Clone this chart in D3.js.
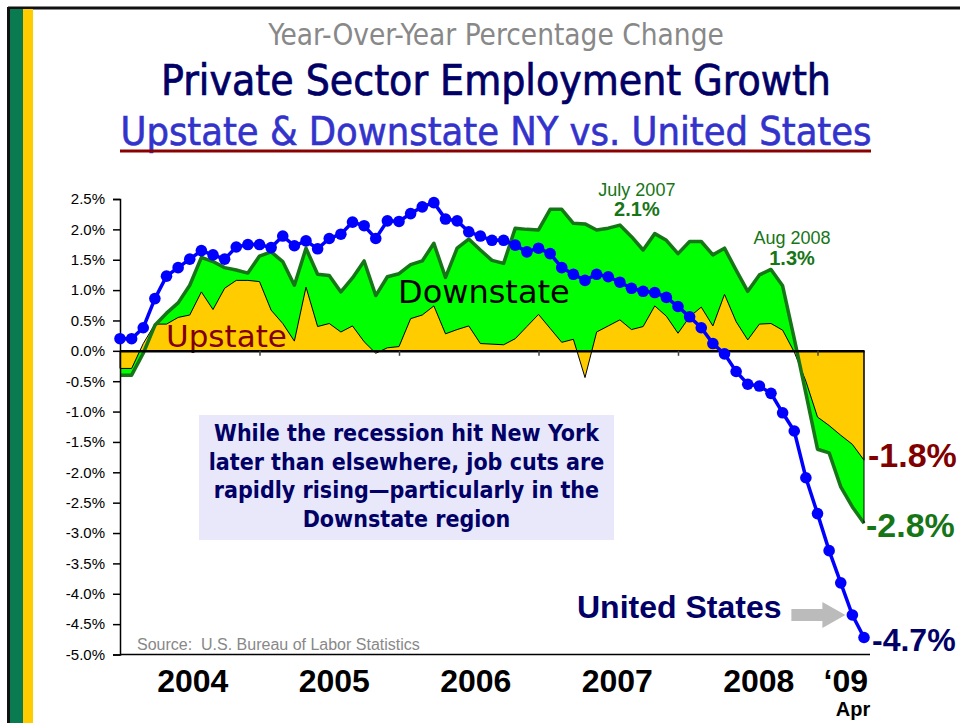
<!DOCTYPE html>
<html>
<head>
<meta charset="utf-8">
<script src="https://cdn.jsdelivr.net/npm/d3@7"></script>
<style>
  body { margin: 0; background: #fff; }
  svg { display: block; }
</style>
</head>
<body>
<div id="chart"></div>
<script>
var svgWidth = 960;
var svgHeight = 723;

// monthly points, Dec 2003 .. Apr 2009
var months = d3.timeMonth.range(new Date(2003, 11, 1), new Date(2009, 4, 1))
  .map(d3.timeFormat("%b %Y"));

// year-over-year % change, private sector employment
var usValues = [0.20, 0.20, 0.38, 0.86, 1.23, 1.37, 1.51, 1.65, 1.58, 1.51, 1.71, 1.75, 1.75,
  1.70, 1.89, 1.73, 1.81, 1.68, 1.85, 1.92, 2.12, 2.06, 1.85, 2.14, 2.13,
  2.26, 2.37, 2.44, 2.17, 2.14, 1.96, 1.89, 1.82, 1.82, 1.74, 1.63, 1.69,
  1.60, 1.37, 1.26, 1.16, 1.26, 1.22, 1.13, 1.03, 0.98, 0.96, 0.88, 0.73,
  0.56, 0.38, 0.12, -0.05, -0.34, -0.55, -0.58, -0.70, -1.02, -1.32, -2.09, -2.68,
  -3.29, -3.82, -4.35, -4.72];

var downstateValues = [-0.40, -0.40, -0.04, 0.42, 0.62, 0.79, 1.08, 1.54, 1.47, 1.37, 1.33, 1.28, 1.56,
  1.63, 1.47, 1.08, 1.69, 1.26, 1.24, 0.97, 1.20, 1.48, 0.91, 1.22, 1.27,
  1.42, 1.48, 1.77, 1.21, 1.69, 1.84, 1.66, 1.49, 1.44, 2.02, 2.00, 1.99,
  2.33, 2.33, 2.10, 2.09, 1.99, 2.02, 2.07, 1.88, 1.66, 1.93, 1.82, 1.60,
  1.80, 1.80, 1.58, 1.69, 1.33, 0.98, 1.25, 1.34, 1.07, 0.20, -0.70, -1.62,
  -1.68, -2.24, -2.57, -2.84];

var upstateValues = [-0.29, -0.29, 0.12, 0.44, 0.44, 0.55, 0.59, 0.97, 0.68, 1.03, 1.16, 1.16, 1.14,
  0.67, 0.45, 0.16, 1.05, 0.40, 0.45, 0.31, 0.41, 0.15, -0.04, 0.05, 0.07,
  0.53, 0.59, 0.74, 0.28, 0.35, 0.41, 0.12, 0.11, 0.10, 0.20, 0.40, 0.60,
  0.37, 0.14, 0.19, -0.44, 0.31, 0.41, 0.51, 0.35, 0.40, 0.74, 0.57, 0.29,
  0.56, 0.72, 0.41, 0.93, 0.48, 0.18, 0.44, 0.45, 0.34, -0.02, -0.50, -1.09,
  -1.23, -1.39, -1.54, -1.80];

var yTicks = [2.5, 2.0, 1.5, 1.0, 0.5, 0.0, -0.5, -1.0, -1.5, -2.0, -2.5, -3.0, -3.5, -4.0, -4.5, -5.0];
var yearTicks = ["Dec 2004", "Dec 2005", "Dec 2006", "Dec 2007", "Dec 2008"];
var yearLabels = ["2004", "2005", "2006", "2007", "2008", "\u201809"];

var noteLines = ["While the recession hit New York",
  "later than elsewhere, job cuts are",
  "rapidly rising\u2014particularly in the",
  "Downstate region"];

var arial = "'Liberation Sans', Arial, sans-serif";
var tahoma = "'DejaVu Sans Condensed', 'DejaVu Sans', sans-serif";
var verdana = "'DejaVu Sans', Verdana, sans-serif";

var navy = "#000066";
var darkGreen = "#167516";
var darkRed = "#800000";

// percent label with a plain hyphen for the minus sign
var pct = function (v) { return d3.format(".1f")(v).replace("\u2212", "-") + "%"; };

var svg = d3.select("#chart")
  .append("svg")
  .attr("width", svgWidth)
  .attr("height", svgHeight);

// frame + side stripes
svg.append("rect").attr("x", 0).attr("y", 0).attr("width", svgWidth).attr("height", svgHeight).attr("fill", "#fff");
svg.append("line").attr("x1", 8).attr("x2", svgWidth).attr("y1", 8).attr("y2", 8)
  .attr("stroke", "#111").attr("stroke-width", 3);
svg.append("rect").attr("x", 7).attr("y", 7).attr("width", 3).attr("height", svgHeight).attr("fill", "#111");
svg.append("rect").attr("x", 10).attr("y", 9).attr("width", 13).attr("height", svgHeight).attr("fill", "#0a7a50");
svg.append("rect").attr("x", 23).attr("y", 9).attr("width", 10).attr("height", svgHeight).attr("fill", "#ffcc00");

// titles
svg.append("text")
  .attr("x", 496).attr("y", 45)
  .attr("text-anchor", "middle")
  .style("font-family", tahoma).style("font-size", "29.5px")
  .attr("fill", "#888")
  .text("Year-Over-Year Percentage Change");

svg.append("text")
  .attr("x", 496).attr("y", 95)
  .attr("text-anchor", "middle")
  .style("font-family", tahoma).style("font-size", "42.3px")
  .attr("fill", navy)
  .attr("stroke", navy).attr("stroke-width", 0.7)
  .text("Private Sector Employment Growth");

svg.append("text")
  .attr("x", 496).attr("y", 145)
  .attr("text-anchor", "middle")
  .style("font-family", tahoma).style("font-size", "39.4px")
  .attr("fill", "#3333cc")
  .attr("stroke", "#3333cc").attr("stroke-width", 0.6)
  .text("Upstate & Downstate NY vs. United States");

svg.append("line")
  .attr("x1", 120).attr("x2", 871).attr("y1", 151).attr("y2", 151)
  .attr("stroke", "#8b0000").attr("stroke-width", 3);

// scales
var xScale = d3.scalePoint()
  .domain(months)
  .range([120, 864]);

var yScale = d3.scaleLinear()
  .domain([-5, 2.5])
  .range([654.5, 199]);

var x = function (d, i) { return xScale(months[i]); };

// note box
var note = svg.append("g");
note.append("rect")
  .attr("x", 199).attr("y", 415).attr("width", 415).attr("height", 125)
  .attr("fill", "#e8e8fa");
note.selectAll("text")
  .data(noteLines)
  .enter()
  .append("text")
  .attr("x", 406.5)
  .attr("y", (d, i) => 441 + i * 28.7)
  .attr("text-anchor", "middle")
  .style("font-family", tahoma).style("font-size", "23px").style("font-weight", "bold")
  .attr("fill", navy)
  .text(d => d);

// areas
var zeroArea = d3.area()
  .x(x)
  .y0(yScale(0))
  .y1(d => yScale(d));

svg.append("path")
  .datum(downstateValues)
  .attr("d", zeroArea)
  .attr("fill", "#00ff00");

svg.append("path")
  .datum(upstateValues)
  .attr("d", zeroArea)
  .attr("fill", "#ffcc00")
  .attr("stroke", "#000")
  .attr("stroke-width", 1)
  .attr("stroke-linejoin", "round");

svg.append("path")
  .datum(downstateValues)
  .attr("d", d3.line().x(x).y(d => yScale(d)))
  .attr("fill", "none")
  .attr("stroke", darkGreen)
  .attr("stroke-width", 3.5)
  .attr("stroke-linejoin", "round");

// right edge of the areas
svg.append("line")
  .attr("x1", 864).attr("x2", 864)
  .attr("y1", yScale(0)).attr("y2", yScale(downstateValues[downstateValues.length - 1]))
  .attr("stroke", "#000").attr("stroke-width", 1);

// area labels
svg.append("text")
  .attr("x", 166).attr("y", 347)
  .style("font-family", verdana).style("font-size", "31px")
  .attr("fill", darkRed)
  .text("Upstate");

svg.append("text")
  .attr("x", 398).attr("y", 303)
  .style("font-family", verdana).style("font-size", "32px")
  .attr("fill", "#000")
  .text("Downstate");

// axes
var leftAxis = d3.axisLeft(yScale)
  .tickValues(yTicks)
  .tickSize(7)
  .tickPadding(8)
  .tickFormat(pct);

var yAxis = svg.append("g")
  .attr("transform", "translate(120,0)")
  .call(leftAxis);
yAxis.select(".domain").attr("stroke", "#000").attr("stroke-width", 1.5);
yAxis.selectAll(".tick line").attr("stroke", "#000").attr("stroke-width", 1.5);
yAxis.selectAll(".tick text")
  .style("font-family", arial).style("font-size", "15px")
  .attr("fill", "#000");

var bottomAxis = d3.axisBottom(xScale)
  .tickValues(yearTicks)
  .tickSizeInner(5)
  .tickSizeOuter(0)
  .tickFormat("");

var xAxis = svg.append("g")
  .attr("transform", `translate(0, ${yScale(0)})`)
  .call(bottomAxis);
xAxis.select(".domain").attr("stroke", "#000").attr("stroke-width", 2.5);
xAxis.selectAll(".tick line").attr("stroke", "#444").attr("stroke-width", 1.5);

svg.append("line")
  .attr("x1", 120).attr("x2", 870)
  .attr("y1", yScale(-5)).attr("y2", yScale(-5))
  .attr("stroke", "#000").attr("stroke-width", 1.5);

// year labels, centred between the December ticks
var yearEdges = [months[0]].concat(yearTicks, [months[months.length - 1]]);
svg.selectAll(".year")
  .data(yearLabels)
  .enter()
  .append("text")
  .attr("class", "year")
  .attr("x", (d, i) => (xScale(yearEdges[i]) + xScale(yearEdges[i + 1])) / 2 + 3 + (i < 5 ? i * 2 : 2))
  .attr("y", 692)
  .attr("text-anchor", "middle")
  .style("font-family", arial).style("font-size", "32px").style("font-weight", "bold")
  .attr("fill", "#000")
  .text(d => d);

svg.append("text")
  .attr("x", xScale(months[months.length - 1]) - 11).attr("y", 716)
  .attr("text-anchor", "middle")
  .style("font-family", arial).style("font-size", "20px").style("font-weight", "bold")
  .attr("fill", "#000")
  .text("Apr");

svg.append("text")
  .attr("x", 137).attr("y", 650)
  .style("font-family", arial).style("font-size", "16px")
  .style("white-space", "pre")
  .attr("fill", "#888")
  .text("Source:  U.S. Bureau of Labor Statistics");

// United States line
svg.append("path")
  .datum(usValues)
  .attr("d", d3.line().x(x).y(d => yScale(d)))
  .attr("fill", "none")
  .attr("stroke", "#0000ff")
  .attr("stroke-width", 3.5);

svg.selectAll(".dot")
  .data(usValues)
  .enter()
  .append("circle")
  .attr("class", "dot")
  .attr("cx", x)
  .attr("cy", d => yScale(d))
  .attr("r", 5.8)
  .attr("fill", "#0000ff");

// annotations
var jul07 = months.indexOf("Jul 2007");
var aug08 = months.indexOf("Aug 2008");

svg.append("text")
  .attr("x", xScale(months[jul07]) + 17).attr("y", 196)
  .attr("text-anchor", "middle")
  .style("font-family", arial).style("font-size", "18px")
  .attr("fill", darkGreen)
  .text("July 2007");
svg.append("text")
  .attr("x", xScale(months[jul07]) + 17).attr("y", 216)
  .attr("text-anchor", "middle")
  .style("font-family", arial).style("font-size", "20px").style("font-weight", "bold")
  .attr("fill", darkGreen)
  .text(pct(downstateValues[jul07]));

svg.append("text")
  .attr("x", xScale(months[aug08]) + 21).attr("y", 244)
  .attr("text-anchor", "middle")
  .style("font-family", arial).style("font-size", "18px")
  .attr("fill", darkGreen)
  .text("Aug 2008");
svg.append("text")
  .attr("x", xScale(months[aug08]) + 21).attr("y", 265)
  .attr("text-anchor", "middle")
  .style("font-family", arial).style("font-size", "20px").style("font-weight", "bold")
  .attr("fill", darkGreen)
  .text(pct(downstateValues[aug08]));

// end-point labels
var last = months.length - 1;
var endX = xScale(months[last]);

svg.append("text")
  .attr("x", endX + 4).attr("y", yScale(upstateValues[last]) + 7)
  .style("font-family", arial).style("font-size", "34px").style("font-weight", "bold")
  .attr("fill", darkRed)
  .text(pct(upstateValues[last]));

svg.append("text")
  .attr("x", endX + 2).attr("y", yScale(downstateValues[last]) + 14)
  .style("font-family", arial).style("font-size", "34px").style("font-weight", "bold")
  .attr("fill", darkGreen)
  .text(pct(downstateValues[last]));

svg.append("text")
  .attr("x", endX + 8).attr("y", yScale(usValues[last]) + 14)
  .style("font-family", arial).style("font-size", "32px").style("font-weight", "bold")
  .attr("fill", navy)
  .text(pct(usValues[last]));

// United States label with arrow
svg.append("text")
  .attr("x", 577).attr("y", 618)
  .style("font-family", arial).style("font-size", "32px").style("font-weight", "bold")
  .attr("fill", navy)
  .text("United States");

var tipX = xScale(months[last - 1]) - 7;
var tipY = yScale(usValues[last - 1]);
svg.append("polygon")
  .attr("points", [
    [tipX - 54, tipY - 6], [tipX - 23, tipY - 6], [tipX - 23, tipY - 13],
    [tipX, tipY], [tipX - 23, tipY + 13], [tipX - 23, tipY + 6], [tipX - 54, tipY + 6]
  ].map(p => p.join(",")).join(" "))
  .attr("fill", "#bbbbbb");
</script>
</body>
</html>
